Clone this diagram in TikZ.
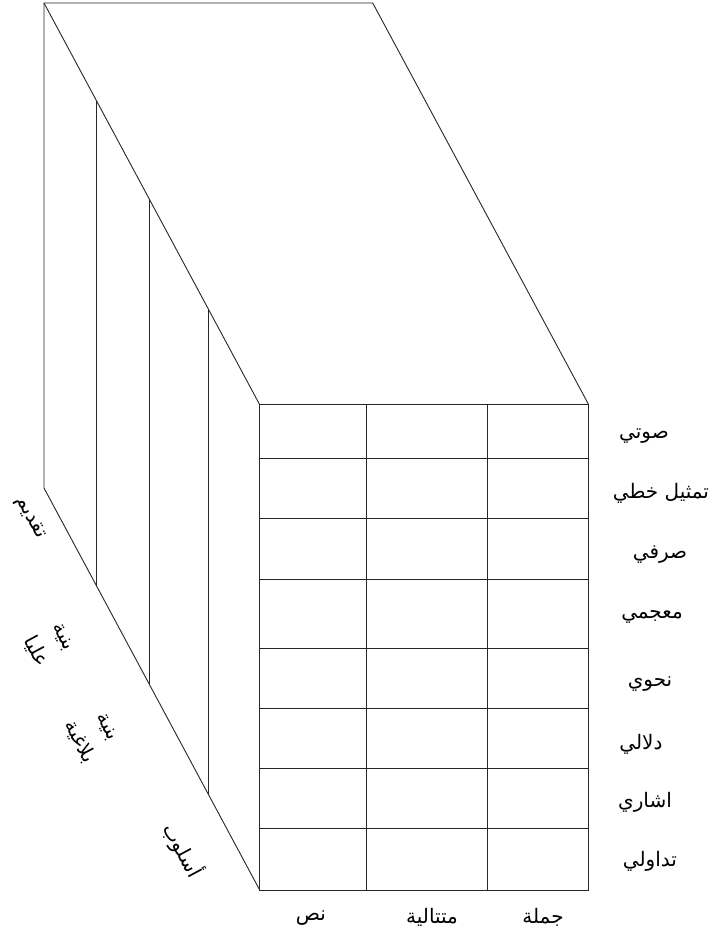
\documentclass[tikz,border=0pt]{standalone}
\usepackage{fontspec}
\newfontfamily\arabicfont[Script=Arabic]{DejaVu Sans}
\TeXXeTstate=1
\usetikzlibrary{calc}

\begin{document}
\begin{tikzpicture}[x=1pt,y=-1pt,
  edge/.style={line width=0.9pt,black!85},
  lab/.style={font=\arabicfont\fontsize{20}{32}\selectfont,inner sep=0pt},
  side/.style={lab,rotate=-61.7,align=center}]
  \useasboundingbox (0,0) rectangle (713,939);
  % corners of the block
  \coordinate (bTL) at (44,3);
  \coordinate (bTR) at (372.7,3);
  \coordinate (bBL) at (44,488);
  \coordinate (fTL) at (259.7,404.7);
  \coordinate (fTR) at (588.7,404.7);
  \coordinate (fBL) at (259.7,890);
  \coordinate (fBR) at (588.7,890);
  % outline
  \draw[edge] (bBL) -- (bTL) -- (bTR) -- (fTR);
  \draw[edge] (bTL) -- (fTL);
  \draw[edge] (bBL) -- (fBL);
  % walls on the side face
  \foreach \t in {0.245,0.49,0.764}
    \draw[edge] ($(bTL)!\t!(fTL)$) -- ($(bBL)!\t!(fBL)$);
  % front grid
  \draw[edge] (fTL) rectangle (fBR);
  \foreach \x in {366.7,487.7}
    \draw[edge] (\x,404.7) -- (\x,890);
  \foreach \y in {458.7,518.7,579.3,648.7,708,768.7,828.7}
    \draw[edge] (259.7,\y) -- (588.7,\y);
  % levels
  \node[lab] (sawti)  at (644,436) {\beginR صوتي\endR};
  \node[lab] (khatti) at (661,493) {\beginR تمثيل خطي\endR};
  \node[lab] (sarfi)  at (660,555) {\beginR صرفي\endR};
  \node[lab] (muajami) at (652,617) {\beginR معجمي\endR};
  \node[lab] (nahwi)  at (650,684) {\beginR نحوي\endR};
  \node[lab] (dalali) at (641,744) {\beginR دلالي\endR};
  \node[lab] (ishari) at (645,802) {\beginR اشاري\endR};
  \node[lab] (tadawuli) at (650,861) {\beginR تداولي\endR};
  % units
  \node[lab] (nass)   at (311,918) {\beginR نص\endR};
  \node[lab] (mutatal) at (432,917) {\beginR متتالية\endR};
  \node[lab] (jumla)  at (543,917) {\beginR جملة\endR};
  % depth
  \node[side] (taqdim) at (30,518) {\beginR تقديم\endR};
  \node[side] (ulya)   at (48,645) {\beginR بنية\endR\\\beginR عليا\endR};
  \node[side] (balagh) at (92,735) {\beginR بنية\endR\\\beginR بلاغية\endR};
  \node[side] (uslub)  at (183,850) {\beginR أسلوب\endR};
\end{tikzpicture}
\end{document}
